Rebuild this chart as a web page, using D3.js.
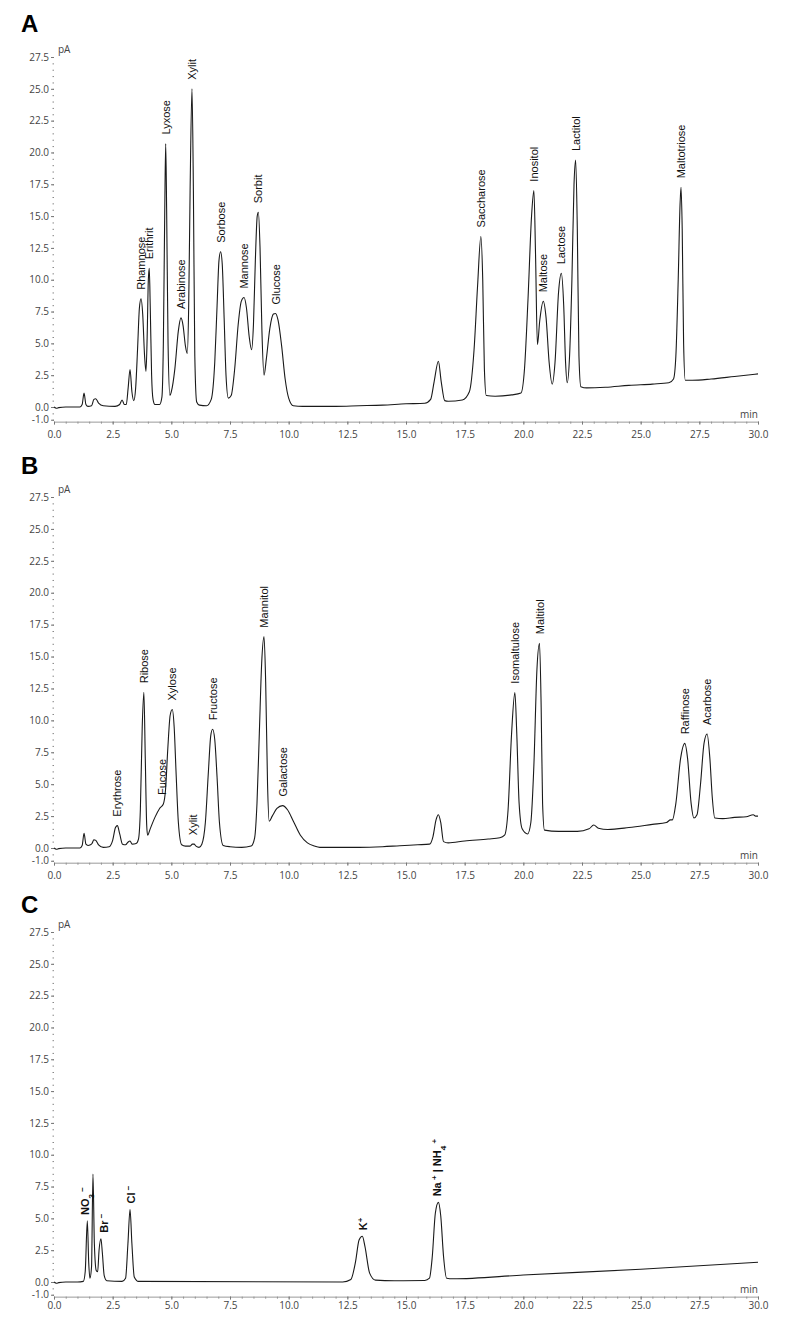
<!DOCTYPE html>
<html>
<head>
<meta charset="utf-8">
<script src="https://cdn.jsdelivr.net/npm/d3@7"></script>
<style>
  html, body { margin: 0; padding: 0; background: #fff; }
  svg { display: block; }
</style>
</head>
<body>
<script>
// ---------------- DATA ----------------
const xTickValues = [0, 2.5, 5, 7.5, 10, 12.5, 15, 17.5, 20, 22.5, 25, 27.5, 30];
const yTickValues = [-1, 0, 2.5, 5, 7.5, 10, 12.5, 15, 17.5, 20, 22.5, 25, 27.5];
const xUnit = "min";
const yUnit = "pA";

// Panel A trace: [time (min), signal (pA)]
const traceA = [
  [0,0.0],[0.1,-0.1],[0.2,-0.05],[0.5,0],[1.1,0.0],[1.2,0.2],[1.28,1.1],[1.36,0.2],[1.45,0.05],[1.6,0.1],[1.7,0.6],[1.78,0.65],[1.9,0.3],[2.1,0.1],[2.6,0.05],
  [2.8,0.2],[2.9,0.55],[3.0,0.2],[3.08,0.2],[3.16,1.5],[3.24,2.95],[3.32,1.2],[3.4,0.5],[3.48,1.5],[3.56,4.5],[3.64,7.8],[3.71,8.5],[3.78,7.3],[3.86,4.0],
  [3.92,2.8],[3.97,5.5],[4.02,10.0],[4.06,10.9],[4.1,8.0],[4.16,2.5],[4.22,0.6],[4.3,0.2],[4.5,0.2],[4.6,0.8],[4.66,5.0],[4.72,15.5],[4.76,20.7],[4.8,15.5],
  [4.86,5.0],[4.94,0.9],[5.0,1.2],[5.15,3.0],[5.3,6.0],[5.41,7.0],[5.5,6.4],[5.6,4.8],[5.68,4.2],[5.74,8.0],[5.8,17.0],[5.88,25.0],[5.94,17.0],[6.0,4.0],
  [6.08,0.4],[6.2,0.15],[6.5,0.1],[6.7,0.6],[6.85,3.5],[6.95,8.0],[7.03,11.5],[7.1,12.2],[7.17,11.2],[7.25,7.0],[7.33,2.5],[7.43,0.7],[7.55,0.9],[7.7,3.0],
  [7.85,6.5],[7.98,8.3],[8.1,8.6],[8.2,7.8],[8.32,5.5],[8.42,4.5],[8.5,6.5],[8.58,11.5],[8.66,15.0],[8.71,15.3],[8.78,12.5],[8.86,6.0],[8.95,2.5],[9.05,3.8],
  [9.2,6.2],[9.35,7.3],[9.44,7.35],[9.55,6.8],[9.7,4.8],[9.85,2.2],[10.0,0.7],[10.2,0.1],[10.6,0.05],[12.0,0.05],[13.0,0.1],[14.0,0.15],[15.0,0.25],[15.8,0.3],
  [16.05,0.6],[16.2,2.0],[16.38,3.6],[16.5,2.0],[16.65,0.5],[16.8,0.45],[17.4,0.55],[17.7,1.2],[17.9,4.5],[18.05,9.5],[18.19,13.4],[18.27,10.0],[18.34,3.0],
  [18.42,0.9],[18.8,0.85],[19.5,0.95],[19.9,1.1],[20.05,3.0],[20.2,8.5],[20.35,15.0],[20.45,17.0],[20.52,12.0],[20.6,4.9],[20.7,6.8],[20.85,8.3],[20.97,7.0],
  [21.1,3.5],[21.23,1.8],[21.35,3.5],[21.5,9.0],[21.62,10.5],[21.72,8.0],[21.8,3.5],[21.87,1.9],[21.97,4.0],[22.07,10.0],[22.16,17.5],[22.23,19.4],[22.3,14.0],
  [22.37,4.0],[22.45,1.6],[22.7,1.5],[23.5,1.55],[24.5,1.7],[25.5,1.8],[26.2,1.9],[26.4,2.2],[26.5,4.0],[26.6,10.0],[26.68,16.0],[26.72,17.26],[26.77,14.0],
  [26.83,5.0],[26.9,2.1],[27.2,2.1],[28,2.2],[29,2.4],[30,2.6]
];
const namesA   = ["Rhamnose","Erithrit","Lyxose","Arabinose","Xylit","Sorbose","Mannose","Sorbit","Glucose","Saccharose","Inositol","Maltose","Lactose","Lactitol","Maltotriose"];
const timesA   = [3.71, 4.06, 4.76, 5.41, 5.88, 7.1, 8.1, 8.71, 9.44, 18.19, 20.45, 20.85, 21.62, 22.23, 26.72];
const heightsA = [8.5, 10.9, 20.7, 7.0, 25.0, 12.2, 8.6, 15.3, 7.35, 13.4, 17.0, 8.3, 10.5, 19.4, 17.26];

// Panel B trace
const traceB = [
  [0,0],[0.1,-0.1],[0.2,-0.05],[0.5,0],[1.1,0.0],[1.2,0.2],[1.28,1.15],[1.36,0.3],[1.45,0.2],[1.55,0.25],[1.62,0.35],[1.7,0.65],[1.78,0.6],[1.9,0.25],[2.1,0.05],
  [2.35,0.1],[2.5,0.6],[2.62,1.6],[2.7,1.75],[2.8,1.1],[2.92,0.3],[3.05,0.25],[3.15,0.45],[3.24,0.55],[3.33,0.3],[3.5,0.35],[3.6,0.7],[3.68,3.0],[3.76,9.5],
  [3.83,12.2],[3.89,7.0],[3.95,1.8],[3.99,1.0],[4.1,1.5],[4.3,2.4],[4.5,3.1],[4.66,3.45],[4.75,4.5],[4.85,7.8],[4.95,10.4],[5.04,10.85],[5.12,9.5],[5.2,6.0],
  [5.3,2.0],[5.44,0.25],[5.6,0.15],[5.8,0.15],[5.9,0.3],[5.97,0.3],[6.05,0.15],[6.18,0.05],[6.3,0.3],[6.45,2.0],[6.58,6.0],[6.68,8.8],[6.76,9.3],[6.85,8.5],
  [6.95,5.5],[7.05,2.0],[7.21,0.2],[7.5,0.1],[8.0,0.05],[8.4,0.15],[8.55,0.8],[8.65,3.5],[8.75,9.0],[8.85,14.5],[8.95,16.56],[9.02,13.0],[9.1,5.0],[9.17,2.1],
  [9.3,2.5],[9.5,3.1],[9.74,3.32],[9.95,3.0],[10.2,2.1],[10.5,1.0],[10.8,0.4],[11.1,0.15],[11.33,0.05],[12,0.05],[13,0.05],[14,0.1],[14.74,0.18],[15.5,0.25],
  [16.0,0.3],[16.15,0.9],[16.28,2.2],[16.38,2.6],[16.48,2.0],[16.6,0.5],[16.8,0.4],[17.5,0.55],[18.5,0.7],[19.0,0.8],[19.2,1.0],[19.35,3.0],[19.5,9.0],
  [19.64,12.17],[19.72,9.0],[19.82,3.5],[19.95,1.5],[20.18,1.1],[20.32,2.0],[20.45,6.5],[20.58,14.0],[20.69,16.04],[20.76,11.0],[20.82,3.5],[20.9,1.4],
  [21.5,1.3],[22.3,1.3],[22.8,1.5],[23.0,1.8],[23.2,1.55],[23.6,1.45],[24.5,1.6],[25.5,1.85],[26.1,2.0],[26.27,2.2],[26.35,2.2],[26.5,3.5],[26.7,7.0],
  [26.88,8.2],[27.0,7.0],[27.15,3.5],[27.27,2.35],[27.4,2.6],[27.55,5.0],[27.7,8.2],[27.83,8.93],[27.95,7.0],[28.05,4.0],[28.16,2.35],[28.5,2.3],[29,2.4],
  [29.5,2.45],[29.8,2.6],[29.9,2.5],[30,2.5]
];
const namesB   = ["Erythrose","Ribose","Fucose","Xylose","Xylit","Fructose","Mannitol","Galactose","Isomaltulose","Maltitol","Raffinose","Acarbose"];
const timesB   = [2.7, 3.83, 4.6, 5.04, 5.93, 6.76, 8.95, 9.74, 19.64, 20.69, 26.88, 27.83];
const heightsB = [1.75, 12.2, 3.45, 10.85, 0.3, 9.3, 16.56, 3.32, 12.17, 16.04, 8.2, 8.93];

// Panel C trace
const traceC = [
  [0,0],[0.1,-0.1],[0.2,-0.05],[0.5,0],[1.0,0],[1.25,0.05],[1.33,0.8],[1.42,4.8],[1.48,1.5],[1.53,0.3],[1.6,1.2],[1.66,8.48],[1.72,3.0],[1.8,0.9],[1.86,0.8],
  [1.92,2.5],[2.0,3.4],[2.06,2.3],[2.14,0.5],[2.25,0.1],[2.9,0.05],[3.05,0.3],[3.15,3.0],[3.24,5.7],[3.32,3.0],[3.42,0.4],[3.6,0.05],[12.3,0.0],[12.65,0.2],
  [12.85,1.6],[13.0,3.3],[13.14,3.6],[13.25,2.8],[13.45,0.7],[13.7,0.15],[14.5,0.1],[15.8,0.12],[16.0,0.3],[16.12,2.0],[16.25,5.4],[16.38,6.26],[16.48,5.2],
  [16.6,2.0],[16.73,0.3],[17.0,0.25],[20,0.55],[25,1.0],[30,1.55]
];
// ion labels: segments with optional "sub"/"sup"
const namesC = [
  [{t:"NO"},{t:"3",s:"sub"},{t:" \u2212",s:"sup"}],
  [{t:"Br"},{t:" \u2212",s:"sup"}],
  [{t:"Cl"},{t:" \u2212",s:"sup"}],
  [{t:"K"},{t:"+",s:"sup"}],
  [{t:"Na"},{t:" +",s:"sup"},{t:" | NH"},{t:"4",s:"sub"},{t:" +",s:"sup"}]
];
const timesC   = [1.32, 2.12, 3.3, 13.18, 16.34];
const heightsC = [4.8, 3.4, 5.7, 3.6, 6.26];

// ---------------- LAYOUT ----------------
const W = 789, H = 1321;
const svg = d3.select("body").append("svg").attr("width", W).attr("height", H);

const x = d3.scaleLinear().domain([0, 30]).range([54, 758]);

const panels = [
  { letter: "A", trace: traceA, names: namesA, times: timesA, heights: heightsA, zeroY: 407, topY: 57,  letterY: 32,  gap: 9, xPad: 6, bold: false },
  { letter: "B", trace: traceB, names: namesB, times: timesB, heights: heightsB, zeroY: 848, topY: 497, letterY: 474, gap: 9, xPad: 6, bold: false },
  { letter: "C", trace: traceC, names: namesC, times: timesC, heights: heightsC, zeroY: 1282, topY: 932, letterY: 913, gap: 6, xPad: 2, bold: true }
];

const tickFont = "'Open Sans', 'DejaVu Sans', sans-serif";
const labelFont = "'Liberation Sans', Arial, sans-serif";
const fmt = v => d3.format(".1f")(v).replace("\u2212", "-");

panels.forEach(p => {
  const y = d3.scaleLinear().domain([0, 27.5]).range([p.zeroY, p.topY]);
  const g = svg.append("g");
  const axisY = y(-1.15);

  // panel letter
  g.append("text").attr("x", 21).attr("y", p.letterY)
    .attr("font-family", labelFont).attr("font-weight", "bold").attr("font-size", 24)
    .attr("fill", "#000").text(p.letter);

  // x axis minor ticks
  const minorX = d3.range(0, 30.001, 0.5);
  g.append("g").attr("transform", `translate(0,${axisY})`)
    .call(d3.axisBottom(x).tickValues(minorX).tickSize(2).tickFormat(""))
    .call(s => s.select(".domain").remove())
    .call(s => s.selectAll("line").attr("stroke", "#888"));
  // x axis major
  g.append("g").attr("transform", `translate(0,${axisY})`)
    .call(d3.axisBottom(x).tickValues(xTickValues).tickSizeInner(3).tickSizeOuter(0).tickPadding(p.xPad).tickFormat(fmt))
    .call(s => s.select(".domain").attr("stroke", "#999"))
    .call(s => s.selectAll("line").attr("stroke", "#777"))
    .call(s => s.selectAll("text").attr("font-family", tickFont).attr("font-size", 10).attr("fill", "#444"));

  // y axis minor dotted ticks
  const minorY = d3.range(-1, 27.501, 0.5);
  g.append("g").attr("transform", `translate(54,0)`)
    .call(d3.axisLeft(y).tickValues(minorY).tickSize(1.5).tickFormat(""))
    .call(s => s.select(".domain").remove())
    .call(s => s.selectAll("line").attr("stroke", "#888").attr("stroke-width", 1));
  // y axis major
  g.append("g").attr("transform", `translate(54,0)`)
    .call(d3.axisLeft(y).tickValues(yTickValues).tickSize(3).tickPadding(2).tickFormat(fmt))
    .call(s => s.select(".domain").remove())
    .call(s => s.selectAll("line").attr("stroke", "#777"))
    .call(s => s.selectAll("text").attr("font-family", tickFont).attr("font-size", 10).attr("fill", "#444"));

  // units
  g.append("text").attr("x", 58).attr("y", y(27.5) - 4)
    .attr("font-family", tickFont).attr("font-size", 10).attr("fill", "#444").text(yUnit);
  g.append("text").attr("x", 758).attr("y", axisY - 4).attr("text-anchor", "end")
    .attr("font-family", tickFont).attr("font-size", 10).attr("fill", "#444").text(xUnit);

  // trace
  const line = d3.line().x(d => x(d[0])).y(d => y(d[1])).curve(d3.curveMonotoneX);
  g.append("path").datum(p.trace).attr("d", line)
    .attr("fill", "none").attr("stroke", "#1a1a1a").attr("stroke-width", 1.1).attr("stroke-linejoin", "round");

  // peak labels
  p.names.forEach((nm, i) => {
    const px = x(p.times[i]) + 4, py = y(p.heights[i]) - p.gap;
    const t = g.append("text")
      .attr("transform", `translate(${px},${py}) rotate(-90)`)
      .attr("font-family", labelFont).attr("font-size", 11)
      .attr("font-weight", p.bold ? "bold" : "normal")
      .attr("fill", "#111");
    if (typeof nm === "string") {
      t.text(nm);
    } else {
      nm.forEach(seg => {
        const ts = t.append("tspan").text(seg.t);
        if (seg.s === "sub") ts.attr("font-size", 8).attr("baseline-shift", "sub");
        else if (seg.s === "sup") ts.attr("font-size", 8).attr("baseline-shift", "super");
      });
    }
  });
});
</script>
</body>
</html>
